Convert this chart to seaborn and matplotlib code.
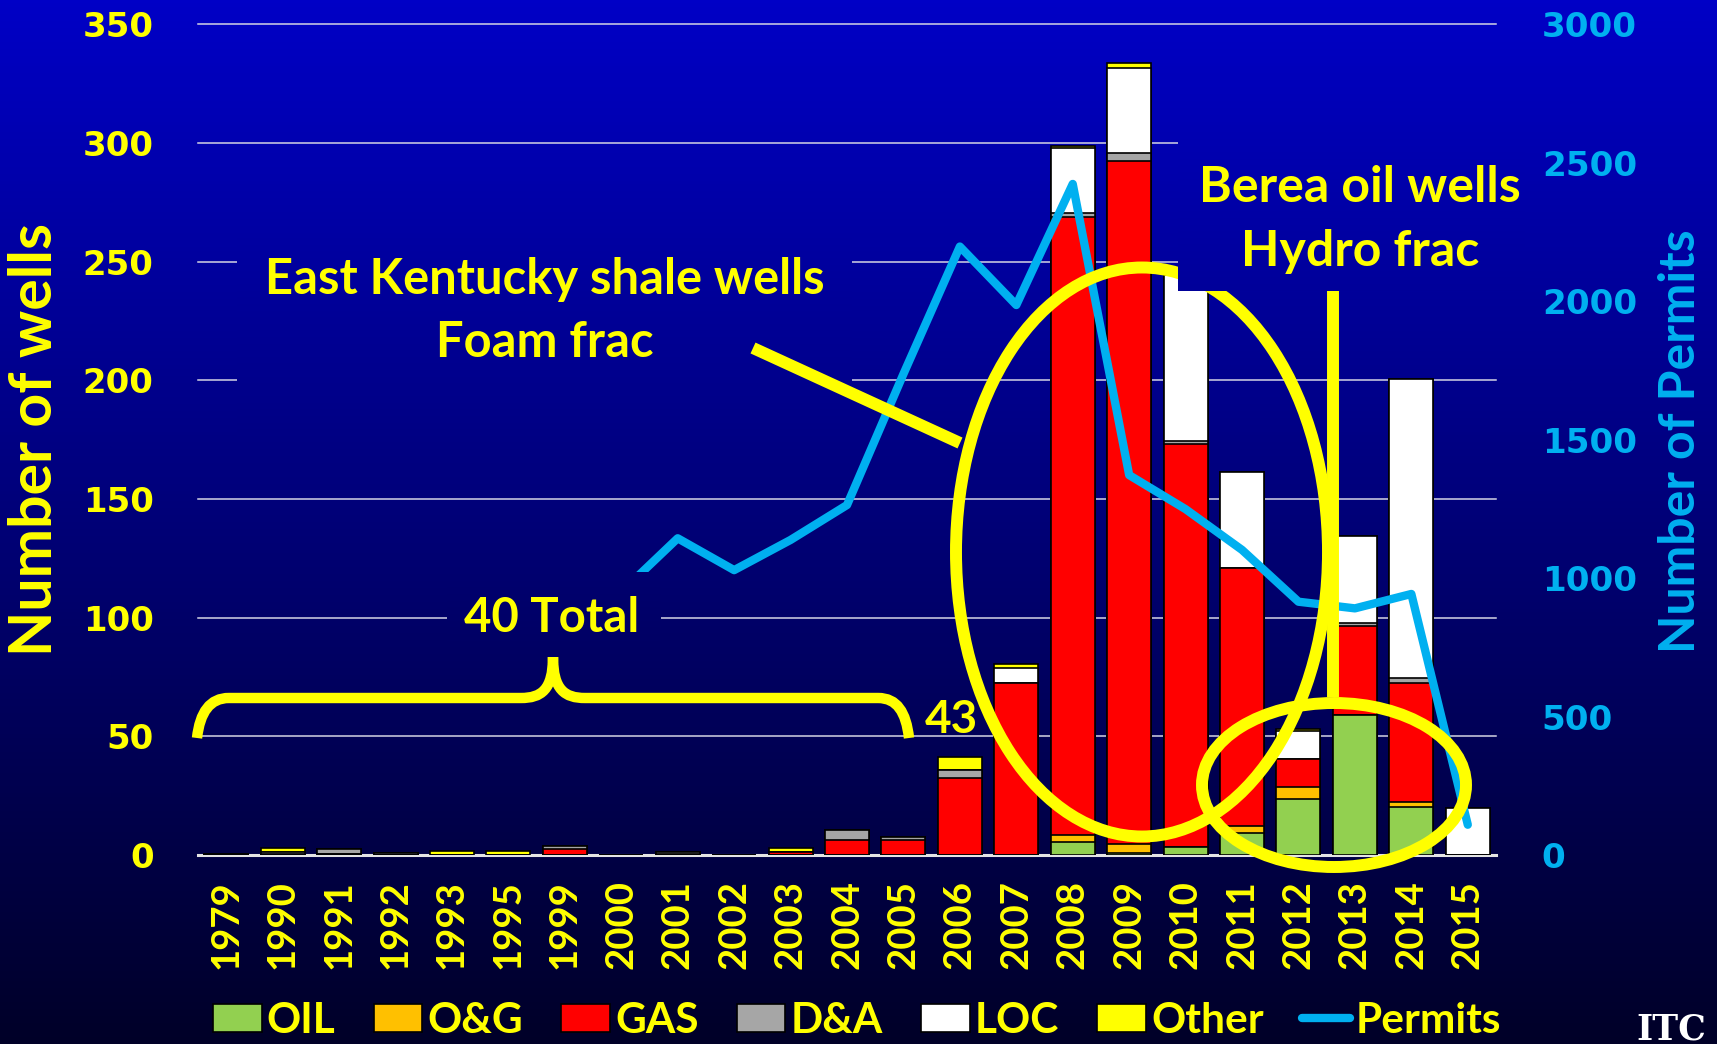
import numpy as np
import pandas as pd
import matplotlib
matplotlib.use("Agg")
import matplotlib.pyplot as plt
import seaborn as sns
from matplotlib.patches import Ellipse, Patch, PathPatch
from matplotlib.path import Path
from matplotlib.lines import Line2D
from matplotlib.font_manager import FontProperties

# ---------------- data ----------------
years = ['1979', '1990', '1991', '1992', '1993', '1995', '1999', '2000', '2001',
         '2002', '2003', '2004', '2005', '2006', '2007', '2008', '2009', '2010',
         '2011', '2012', '2013', '2014', '2015']
oil = [0, 0, 0, 0, 0, 0, 0, 0, 0, 0, 0, 0, 0,
       0, 0, 5.7, 0.8, 3.3, 9.5, 23.5, 59, 20.4, 0]
og = [0, 0, 0.4, 0, 0, 0, 0, 0, 0, 0, 0, 0, 0,
      0, 0, 2.8, 3.9, 0, 2.8, 5.1, 0, 1.9, 0]
gas = [0.6, 0.3, 0, 0, 0, 0, 2.5, 0, 0.3, 0, 1.2, 6.5, 6.5,
       32.5, 72.4, 260.4, 287.8, 169.9, 108.5, 11.9, 37.6, 50.3, 0]
dna = [0, 1.2, 2.2, 0.8, 0, 0, 1.2, 0, 1.2, 0, 0, 4.2, 1.2,
       3.5, 0, 1.7, 3.1, 1.3, 0, 0, 1.0, 1.9, 0]
loc_ = [0, 0, 0, 0, 0, 0, 0, 0, 0, 0, 0, 0, 0,
        0, 6.3, 27.1, 35.8, 70, 40.7, 11.9, 36.8, 126, 19.7]
other = [0, 1.5, 0, 0, 1.8, 1.8, 0, 0, 0, 0, 2.0, 0, 0,
         5.5, 1.8, 1.0, 2.3, 0, 0, 0.8, 0, 0, 0]
permits = [np.nan, np.nan, np.nan, np.nan, np.nan, np.nan, np.nan,
           950, 1144, 1029, 1138, 1264, 1737, 2197, 1986, 2423, 1372, 1249,
           1102, 915, 891, 943, 110]

layer_names = ['OIL', 'O&G', 'GAS', 'D&A', 'LOC', 'Other']
layer_colors = ['#92D050', '#FFC000', '#FF0000', '#A6A6A6', '#FFFFFF', '#FFFF00']
left_ticks = [0, 50, 100, 150, 200, 250, 300, 350]
right_ticks = [0, 500, 1000, 1500, 2000, 2500, 3000]

YEL = '#FFFF00'
CYAN = '#00B0F0'

# ---------------- figure ----------------
W, H, DPI = 1717, 1044, 100
fig = plt.figure(figsize=(W / DPI, H / DPI), dpi=DPI, facecolor='#000066')

TOP_RGB = np.array([0, 0, 198]) / 255
BOT_RGB = np.array([0, 0, 40]) / 255


def grad(y0, y1, n=300):
    t = np.linspace(y0, y1, n) / H
    cols = TOP_RGB[None, :] * (1 - t[:, None]) + BOT_RGB[None, :] * t[:, None]
    return cols[:, None, :]


def fx(x):
    return x / W


def fy(y):
    return 1 - y / H


bg = fig.add_axes([0, 0, 1, 1], zorder=-5)
bg.imshow(grad(0, H), aspect='auto', extent=[0, 1, 0, 1])
bg.axis('off')

AX_L, AX_R, AX_T, AX_B = 198, 1496, 24.1, 855.2
ax = fig.add_axes([fx(AX_L), fy(AX_B), (AX_R - AX_L) / W, (AX_B - AX_T) / H])
ax.set_facecolor('none')

df = pd.DataFrame({'year': years, 'OIL': oil, 'O&G': og, 'GAS': gas,
                   'D&A': dna, 'LOC': loc_, 'Other': other})
cum = df[layer_names].cumsum(axis=1)
for name, col in reversed(list(zip(layer_names, layer_colors))):
    sns.barplot(x=df['year'], y=cum[name], order=years, color=col, saturation=1,
                width=0.78, edgecolor='black', linewidth=1.2, errorbar=None,
                ax=ax, zorder=3)

ax2 = ax.twinx()
pdf = pd.DataFrame({'pos': np.arange(len(years)), 'permits': permits}).dropna()
sns.lineplot(data=pdf, x='pos', y='permits', ax=ax2, color=CYAN, linewidth=6,
             sort=False, solid_joinstyle='round', solid_capstyle='round')

ax.set_xlim(-0.5, len(years) - 0.5)
ax.set_ylim(0, 350)
ax2.set_ylim(0, 3000)
ax.set_xlabel('')
ax.set_ylabel('')
ax2.set_xlabel('')
ax2.set_ylabel('')

for a in (ax, ax2):
    for s in a.spines.values():
        s.set_visible(False)

ax.set_yticks(left_ticks)
ax.set_yticklabels([str(v) for v in left_ticks])
ax.tick_params(axis='y', length=0, pad=32, labelcolor=YEL)
for t in ax.get_yticklabels():
    t.set_fontproperties(FontProperties(family='DejaVu Sans', weight='bold', size=24.4))

ax2.set_yticks(right_ticks)
ax2.set_yticklabels([str(v) for v in right_ticks])
ax2.tick_params(axis='y', length=0, pad=33, labelcolor=CYAN)
for t in ax2.get_yticklabels():
    t.set_fontproperties(FontProperties(family='DejaVu Sans', weight='bold', size=24.6))

ax.set_xticks(range(len(years)))
ax.set_xticklabels(years, rotation=90)
ax.tick_params(axis='x', length=0, pad=18, labelcolor=YEL)
for t in ax.get_xticklabels():
    t.set_fontproperties(FontProperties(family='Lato', weight='bold', size=27.5))

ax.set_axisbelow(True)
ax.yaxis.grid(True, color='#D4D4E4', linewidth=1.1)
ax.xaxis.grid(False)
for i, gl in enumerate(ax.get_ygridlines()):
    gl.set_clip_on(False)
    if i == 0:
        gl.set_linewidth(2.2)
        gl.set_color('#E4E4E4')

# axis titles
lab_fp = dict(family='Lato', weight='bold')
fig.text(fx(35), fy(440), 'Number of wells', rotation=90, ha='center', va='center',
         color=YEL, fontsize=42.5, **lab_fp)
fig.text(fx(1680), fy(441), 'Number of Permits', rotation=90, ha='center', va='center',
         color=CYAN, fontsize=36, **lab_fp)

# ---------------- annotations ----------------
ylw = 8.6
fig.add_artist(Ellipse((fx(1142), fy(552)), 372 / W, 569 / H, transform=fig.transFigure,
                       fill=False, edgecolor=YEL, linewidth=ylw, zorder=3))
fig.add_artist(Ellipse((fx(1334), fy(785)), 264 / W, 164 / H, transform=fig.transFigure,
                       fill=False, edgecolor=YEL, linewidth=ylw, zorder=3))
fig.add_artist(Line2D([fx(753), fx(960)], [fy(348), fy(443)], transform=fig.transFigure,
                      color=YEL, linewidth=ylw, solid_capstyle='butt', zorder=5))
fig.add_artist(Line2D([fx(1333), fx(1333)], [fy(285), fy(697)], transform=fig.transFigure,
                      color=YEL, linewidth=ylw, solid_capstyle='butt', zorder=3))

brace_pts = [(197, 738), (200, 712), (210, 698), (229, 698), (521, 698),
             (541, 698), (553, 690), (553, 657), (553, 690), (565, 698),
             (585, 698), (878, 698), (897, 698), (906, 712), (909, 738)]
brace_codes = [Path.MOVETO, Path.CURVE4, Path.CURVE4, Path.CURVE4, Path.LINETO,
               Path.CURVE4, Path.CURVE4, Path.CURVE4, Path.CURVE4, Path.CURVE4,
               Path.CURVE4, Path.LINETO, Path.CURVE4, Path.CURVE4, Path.CURVE4]
brace = Path([(fx(x), fy(y)) for x, y in brace_pts], brace_codes)
fig.add_artist(PathPatch(brace, transform=fig.transFigure, fill=False, edgecolor=YEL,
                         linewidth=7.5, capstyle='butt', joinstyle='round', zorder=3))


def box(x0, y0, x1, y1):
    bax = fig.add_axes([fx(x0), fy(y1), (x1 - x0) / W, (y1 - y0) / H], zorder=4)
    bax.imshow(grad(y0, y1), aspect='auto', extent=[0, 1, 0, 1])
    bax.axis('off')


box(237, 235, 852, 440)
box(1178, 128, 1525, 291)
box(447, 572, 660, 657)

ann = dict(color=YEL, ha='center', va='baseline', family='Lato', weight='bold', zorder=6)
fig.text(fx(545), fy(294), 'East Kentucky shale wells', fontsize=35.2, **ann)
fig.text(fx(545), fy(357), 'Foam frac', fontsize=35.2, **ann)
fig.text(fx(1360), fy(202), 'Berea oil wells', fontsize=36, **ann)
fig.text(fx(1360), fy(266), 'Hydro frac', fontsize=36, **ann)
fig.text(fx(552), fy(632), '40 Total', fontsize=34, **ann)
fig.text(fx(951), fy(733), '43', fontsize=33, **ann)

# ---------------- legend ----------------
handles = [Patch(facecolor=c, edgecolor='black', linewidth=1.2) for c in layer_colors]
handles.append(Line2D([0], [0], color=CYAN, linewidth=6, solid_capstyle='round'))
labels = layer_names + ['Permits']
fig.legend(handles, labels, loc='center', bbox_to_anchor=(fx(857), fy(1021)), ncol=7,
           frameon=False, prop=FontProperties(family='Lato', weight='bold', size=30.5),
           labelcolor=YEL, handlelength=1.15, handleheight=0.65, handletextpad=0.12,
           columnspacing=0.9, borderaxespad=0, borderpad=0)

# logo fragment
fig.text(fx(1636), fy(1040), 'ITC', color='white', fontsize=25, family='DejaVu Serif',
         weight='bold', ha='left', va='baseline')

fig.savefig('out.png', dpi=DPI, facecolor=fig.get_facecolor())
